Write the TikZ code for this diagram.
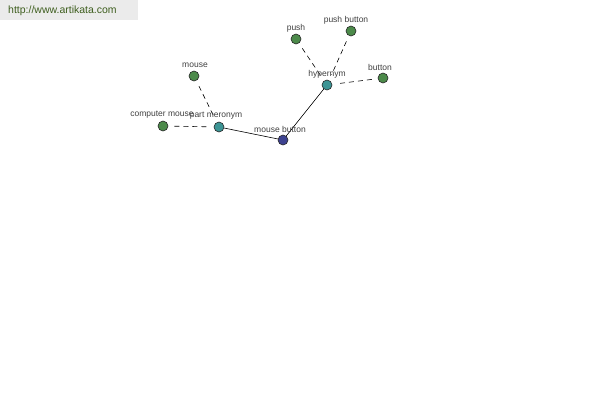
\documentclass[tikz,border=0pt]{standalone}
\usepackage{fontspec}
\setmainfont{Liberation Sans}
\definecolor{gnode}{HTML}{4C8A4A}
\definecolor{tnode}{HTML}{3C9494}
\definecolor{bnode}{HTML}{3D4290}
\definecolor{urlc}{HTML}{3E5E1E}
\begin{document}
\begin{tikzpicture}[x=1pt,y=-1pt,
  dot/.style={circle,draw=black!85,line width=0.6pt,minimum size=10pt,inner sep=0pt},
  gdot/.style={dot,fill=gnode},
  tdot/.style={dot,fill=tnode},
  bdot/.style={dot,fill=bnode},
  lbl/.style={font=\fontsize{8.5}{9}\selectfont,text=black!75,inner sep=0pt},
  dashline/.style={dashed,dash pattern=on 5pt off 4pt,line width=0.6pt,shorten >=6pt,shorten <=6pt},
  solidline/.style={line width=0.6pt}]
\useasboundingbox (0,0) rectangle (600,400);
\fill[black!8] (0,0) rectangle (138,20);
\node[font=\fontsize{10.5}{12}\selectfont,text=urlc,anchor=west,inner sep=0pt] (url) at (8,11) {http://www.artikata.com};
\node[bdot] (mb) at (283,140) {};
\node[tdot] (pm) at (219,127) {};
\node[tdot] (hy) at (327,85) {};
\node[gdot] (cm) at (163,126) {};
\node[gdot] (mo) at (194,76) {};
\node[gdot] (pu) at (296,39) {};
\node[gdot] (pb) at (351,31) {};
\node[gdot] (bu) at (383,78) {};
\draw[solidline] (pm) -- (mb);
\draw[solidline] (mb) -- (hy);
\draw[dashline] (cm) -- (pm);
\draw[dashline] (mo) -- (pm);
\draw[dashline] (pu) -- (hy);
\draw[dashline] (pb) -- (hy);
\draw[dashline] (bu) -- (hy);
\node[lbl] (lmb) at (280,129) {mouse button};
\node[lbl] (lpm) at (216,116) {part meronym};
\node[lbl] (lhy) at (327,74) {hypernym};
\node[lbl] (lcm) at (162,115) {computer mouse};
\node[lbl] (lmo) at (195,65) {mouse};
\node[lbl] (lpu) at (296,28) {push};
\node[lbl] (lpb) at (346,20) {push button};
\node[lbl] (lbu) at (380,67) {button};
\end{tikzpicture}
\end{document}
